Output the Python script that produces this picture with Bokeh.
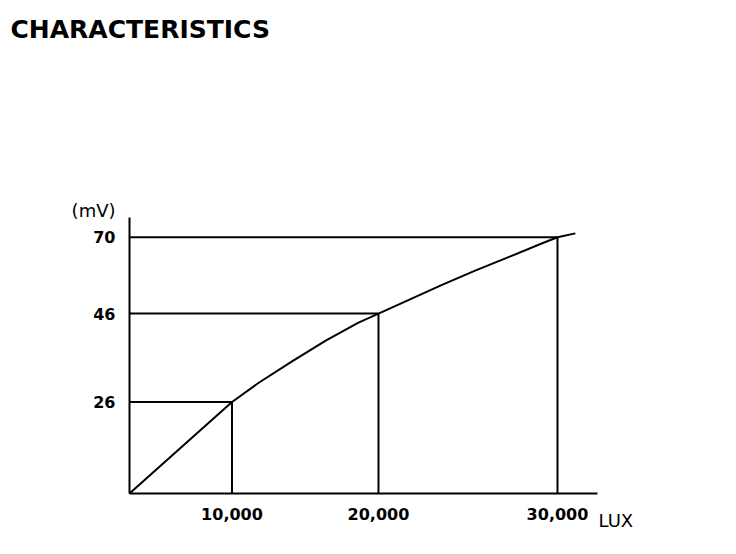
import numpy as np
from bokeh.plotting import figure
from bokeh.models import Range1d, Label, FixedTicker
from bokeh.embed import file_html
from bokeh.resources import INLINE

# ---- texts ----
title_text = "CHARACTERISTICS"
x_unit = "LUX"
y_unit = "(mV)"

# ---- marked operating points ----
lux_marks = [10000, 20000, 30000]
mv_marks = [26, 46, 70]
x_tick_labels = ["10,000", "20,000", "30,000"]
y_tick_labels = ["26", "46", "70"]

# ---- characteristic curve (lux -> mV) ----
curve_lux = [0, 5000, 10000, 11800, 14100, 16400, 18600, 20000,
             21700, 23550, 25400, 27300, 29150, 30000, 31000]
curve_mv = [0, 13, 26, 30.3, 35.2, 39.9, 43.9, 46,
            50.3, 55.0, 59.5, 63.8, 68.1, 70, 71.2]

# ---- schematic (non-uniform) axis scales of the original drawing:
# where each marked value sits, as a fraction of the axis length ----
x_scale_vals = [0, 10000, 20000, 30000]
x_scale_frac = [0, 0.219, 0.532, 0.9145]
y_scale_vals = [0, 26, 46, 70]
y_scale_frac = [0, 0.3315, 0.652, 0.9286]


def to_axis(v, vals, fracs):
    v = np.asarray(v, dtype=float)
    out = np.interp(v, vals, fracs)
    slope = (fracs[-1] - fracs[-2]) / (vals[-1] - vals[-2])
    hi = v > vals[-1]
    out[hi] = fracs[-1] + (v[hi] - vals[-1]) * slope
    return out


cx = to_axis(curve_lux, x_scale_vals, x_scale_frac)
cy = to_axis(curve_mv, y_scale_vals, y_scale_frac)
mx = to_axis(lux_marks, x_scale_vals, x_scale_frac)
my = to_axis(mv_marks, y_scale_vals, y_scale_frac)

# ---- layout (pixels on the canvas) ----
W, H = 720, 530
AX_LEFT, AX_RIGHT = 129, 597     # x-axis extent
AX_BOTTOM, AX_TOP = 493, 217     # y-axis extent
sx = AX_RIGHT - AX_LEFT
sy = AX_BOTTOM - AX_TOP
x_range = Range1d(-AX_LEFT / sx, (W - AX_LEFT) / sx)
y_range = Range1d((AX_BOTTOM - H) / sy, AX_BOTTOM / sy)


def px_x(px):
    return (px - AX_LEFT) / sx


def px_y(py):
    return (AX_BOTTOM - py) / sy


FONT = "DejaVu Sans"

p = figure(width=W, height=H, output_backend="svg", toolbar_location=None,
           x_range=x_range, y_range=y_range, min_border=0,
           min_border_left=0, min_border_right=0, min_border_top=0, min_border_bottom=0)
p.outline_line_color = None
p.grid.visible = False
p.background_fill_color = "white"
p.border_fill_color = "white"

# guide lines from the axes to the marked points
zeros = np.zeros(len(mx))
p.segment(x0=zeros, y0=my, x1=mx, y1=my, line_color="black", line_width=2)
p.segment(x0=mx, y0=zeros, x1=mx, y1=my, line_color="black", line_width=2)

# curve
p.line(cx, cy, line_color="black", line_width=2, line_join="round")

# axes, drawn at the data origin
for ax, ticks, labels in ((p.xaxis[0], mx, x_tick_labels), (p.yaxis[0], my, y_tick_labels)):
    tick_list = [float(t) for t in ticks]
    ax.fixed_location = 0
    ax.bounds = (0, 1)
    ax.ticker = FixedTicker(ticks=tick_list)
    ax.major_label_overrides = {t: l for t, l in zip(tick_list, labels)}
    ax.axis_line_color = "black"
    ax.axis_line_width = 2
    ax.major_tick_line_color = None
    ax.minor_tick_line_color = None
    ax.major_label_text_font = FONT
    ax.major_label_text_font_style = "bold"
    ax.major_label_text_font_size = "16px"
    ax.major_label_text_color = "black"
    ax.major_label_standoff = 8

# title and unit labels
p.add_layout(Label(x=px_x(10), y=px_y(29), text=title_text, text_font=FONT,
                   text_font_style="bold", text_font_size="25px",
                   text_color="black", text_align="left", text_baseline="alphabetic"))
p.add_layout(Label(x=px_x(115), y=px_y(210), text=y_unit, text_font=FONT,
                   text_font_size="18px", text_color="black",
                   text_align="right", text_baseline="alphabetic"))
p.add_layout(Label(x=px_x(598), y=px_y(520), text=x_unit, text_font=FONT,
                   text_font_size="18px", text_color="black",
                   text_align="left", text_baseline="alphabetic"))

open("out.html", "w").write(file_html(p, INLINE))
